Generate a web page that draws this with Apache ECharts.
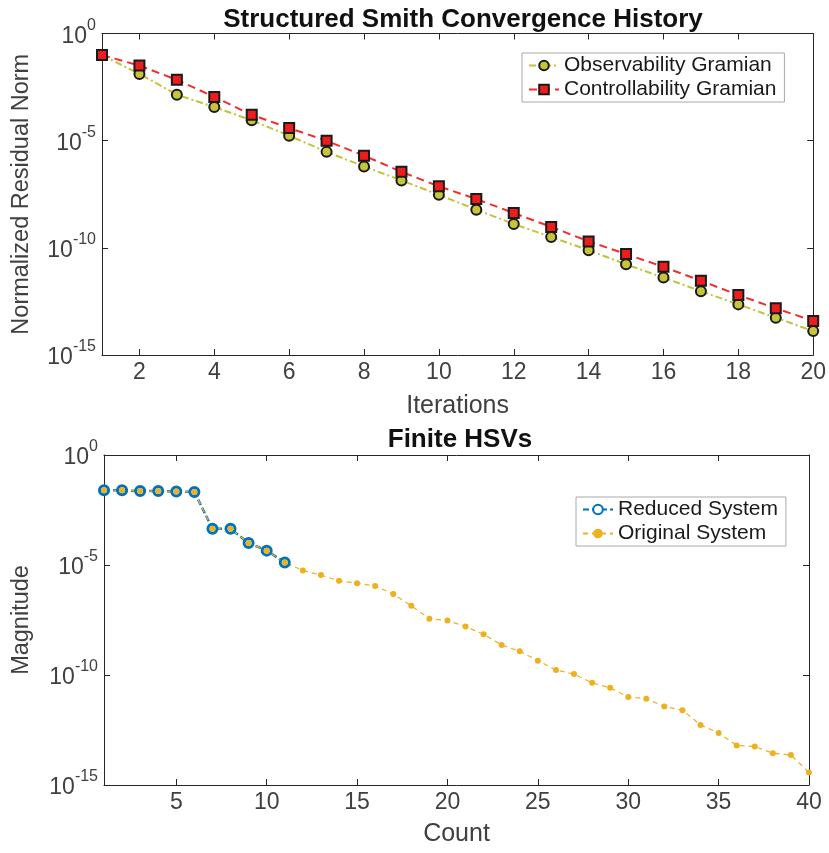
<!DOCTYPE html>
<html>
<head>
<meta charset="utf-8">
<script src="https://cdn.jsdelivr.net/npm/echarts@6/dist/echarts.min.js"></script>
<style>
  html, body { margin: 0; padding: 0; background: #fff; }
  #chart { width: 829px; height: 853px; }
</style>
</head>
<body>
<div id="chart"></div>
<script>
// top panel: residual norm per Smith iteration
const iterations = [1, 2, 3, 4, 5, 6, 7, 8, 9, 10, 11, 12, 13, 14, 15, 16, 17, 18, 19, 20]
const obsNorm = [9.8e-2, 1.3e-2, 1.4e-3, 3.7e-4, 8.9e-5, 1.7e-5, 3.0e-6, 6.3e-7, 1.4e-7, 3.0e-8,
  6.0e-9, 1.3e-9, 3.2e-10, 7.8e-11, 1.7e-11, 4.1e-12, 9.5e-13, 2.3e-13, 5.5e-14, 1.3e-14]
const ctrlNorm = [9.8e-2, 3.2e-2, 6.9e-3, 1.1e-3, 1.6e-4, 3.9e-5, 9.8e-6, 2.0e-6, 3.5e-7, 7.4e-8,
  1.9e-8, 4.2e-9, 9.5e-10, 2.0e-10, 5.1e-11, 1.3e-11, 2.9e-12, 6.3e-13, 1.5e-13, 3.9e-14]
const iterTicks = [2, 4, 6, 8, 10, 12, 14, 16, 18, 20]

// bottom panel: Hankel singular values
const reducedCount = [1, 2, 3, 4, 5, 6, 7, 8, 9, 10, 11]
const reducedHsv = [2.5e-2, 2.5e-2, 2.3e-2, 2.3e-2, 2.2e-2, 2.1e-2, 4.4e-4, 4.4e-4, 1.0e-4, 4.5e-5, 1.3e-5]
const originalCount = [1, 2, 3, 4, 5, 6, 7, 8, 9, 10, 11, 12, 13, 14, 15, 16, 17, 18, 19, 20,
  21, 22, 23, 24, 25, 26, 27, 28, 29, 30, 31, 32, 33, 34, 35, 36, 37, 38, 39, 40]
const originalHsv = [2.5e-2, 2.5e-2, 2.3e-2, 2.3e-2, 2.2e-2, 2.1e-2, 4.4e-4, 4.4e-4, 1.0e-4, 4.5e-5,
  1.3e-5, 5.6e-6, 3.5e-6, 1.9e-6, 1.5e-6, 1.1e-6, 4.8e-7, 1.4e-7, 3.6e-8, 3.0e-8,
  1.6e-8, 7.1e-9, 2.3e-9, 1.2e-9, 4.5e-10, 1.7e-10, 1.1e-10, 4.4e-11, 2.6e-11, 1.0e-11,
  8.3e-12, 3.7e-12, 2.5e-12, 5.4e-13, 2.3e-13, 6.3e-14, 5.6e-14, 2.8e-14, 2.3e-14, 3.7e-15]
const countTicks = [5, 10, 15, 20, 25, 30, 35, 40]

const FONT = 'Liberation Sans, Arial, Helvetica, sans-serif'
const AX = '#262626'
const LBL = '#404040'

function zip (xs, ys) {
  return ys.map((y, i) => [xs[i], y])
}

function powLabel (v) {
  const e = Math.round(Math.log10(v))
  return '{b|10}{s|' + e + '}'
}

const powRich = {
  b: { fontSize: 23, color: LBL, fontFamily: FONT, lineHeight: 32, padding: [6, 0, 0, 0] },
  s: { fontSize: 16, color: LBL, fontFamily: FONT, lineHeight: 16, verticalAlign: 'top' }
}

function xAxes (grid, max, ticks, name, gap) {
  const base = {
    gridIndex: grid,
    type: 'value',
    min: 1,
    max: max,
    axisLine: { lineStyle: { color: AX, width: 1 } },
    axisTick: { inside: true, length: 6, customValues: ticks, lineStyle: { color: AX } },
    splitLine: { show: false }
  }
  return [
    Object.assign({}, base, {
      position: 'bottom',
      name: name,
      nameLocation: 'middle',
      nameGap: gap,
      nameTextStyle: { fontSize: 25, color: LBL, fontFamily: FONT },
      axisLabel: { customValues: ticks, fontSize: 23, color: LBL, fontFamily: FONT, margin: 6 }
    }),
    Object.assign({}, base, { position: 'top', axisLabel: { show: false } })
  ]
}

function yAxes (grid, name, gap) {
  const base = {
    gridIndex: grid,
    type: 'log',
    logBase: 10,
    min: 1e-15,
    max: 1,
    interval: 5,
    splitNumber: 3,
    axisLine: { lineStyle: { color: AX, width: 1 } },
    axisTick: { inside: true, length: 6, lineStyle: { color: AX } },
    minorTick: { show: false },
    splitLine: { show: false }
  }
  return [
    Object.assign({}, base, {
      position: 'left',
      name: name,
      nameLocation: 'middle',
      nameGap: gap,
      nameTextStyle: { fontSize: 23.5, color: LBL, fontFamily: FONT },
      axisLabel: { formatter: powLabel, rich: powRich, margin: 6 }
    }),
    Object.assign({}, base, { position: 'right', axisLabel: { show: false } })
  ]
}

const legendBase = {
  orient: 'vertical',
  backgroundColor: '#fff',
  borderColor: '#a8a8a8',
  borderWidth: 1,
  borderRadius: 0,
  itemWidth: 30,
  itemHeight: 12,
  itemGap: 3,
  padding: [2, 8, 2, 6],
  textStyle: { fontSize: 21, color: '#1a1a1a', fontFamily: FONT }
}

let chart = echarts.init(document.getElementById('chart'))
let option = {
  backgroundColor: '#fff',
  animation: false,
  title: [
    {
      text: 'Structured Smith Convergence History',
      left: 458,
      top: 2,
      textAlign: 'center',
      textStyle: { fontSize: 26, fontWeight: 'bold', color: '#111', fontFamily: FONT }
    },
    {
      text: 'Finite HSVs',
      left: 455,
      top: 422,
      textAlign: 'center',
      textStyle: { fontSize: 26, fontWeight: 'bold', color: '#111', fontFamily: FONT }
    }
  ],
  legend: [
    Object.assign({}, legendBase, {
      left: 522,
      top: 53,
      data: ['Observability Gramian', 'Controllability Gramian']
    }),
    Object.assign({}, legendBase, {
      left: 576,
      top: 497,
      data: ['Reduced System', 'Original System']
    })
  ],
  grid: [
    { left: 102, right: 15, top: 33.5, height: 321.5 },
    { left: 104, right: 20, top: 455, height: 330 }
  ],
  xAxis: [].concat(
    xAxes(0, 20, iterTicks, 'Iterations', 39),
    xAxes(1, 40, countTicks, 'Count', 37)
  ),
  yAxis: [].concat(
    yAxes(0, 'Normalized Residual Norm', 68),
    yAxes(1, 'Magnitude', 70)
  ),
  series: [
    {
      name: 'Observability Gramian',
      type: 'line',
      xAxisIndex: 0,
      yAxisIndex: 0,
      data: zip(iterations, obsNorm),
      symbol: 'circle',
      symbolSize: 10,
      itemStyle: { color: '#c6c43a', borderColor: '#1a1a1a', borderWidth: 2 },
      lineStyle: { color: '#c2c23c', width: 2, type: [7, 3, 2, 3] }
    },
    {
      name: 'Controllability Gramian',
      type: 'line',
      xAxisIndex: 0,
      yAxisIndex: 0,
      data: zip(iterations, ctrlNorm),
      symbol: 'rect',
      symbolSize: 10,
      itemStyle: { color: '#ee1c1c', borderColor: '#1a1a1a', borderWidth: 2 },
      lineStyle: { color: '#f42c2c', width: 2, type: [8, 5] }
    },
    {
      name: 'Reduced System',
      type: 'line',
      xAxisIndex: 2,
      yAxisIndex: 2,
      data: zip(reducedCount, reducedHsv),
      symbol: 'circle',
      symbolSize: 9,
      itemStyle: { color: '#fff', borderColor: '#0072bd', borderWidth: 3 },
      lineStyle: { color: '#0072bd', width: 2.5, type: [6, 3] }
    },
    {
      name: 'Original System',
      type: 'line',
      xAxisIndex: 2,
      yAxisIndex: 2,
      data: zip(originalCount, originalHsv),
      symbol: 'circle',
      symbolSize: 6,
      itemStyle: { color: '#edb120', borderWidth: 0 },
      lineStyle: { color: '#edb120', width: 1.2, type: [5, 4] }
    }
  ]
}
chart.setOption(option)
window.onresize = function () {
  chart.resize()
}
</script>
</body>
</html>
